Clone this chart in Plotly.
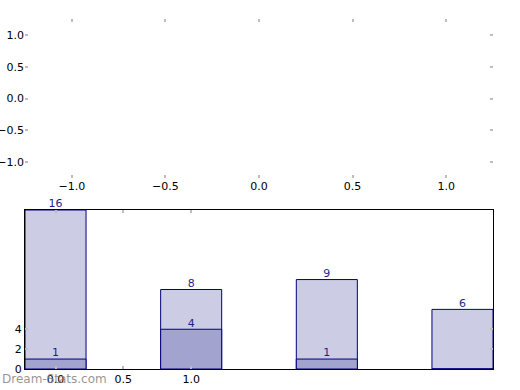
import plotly.graph_objects as go

# ---- data ----
top_xticks = [-1.0, -0.5, 0.0, 0.5, 1.0]
top_yticks = [-1.0, -0.5, 0.0, 0.5, 1.0]
bar_positions = [0, 1, 2, 3]
totals = [16, 8, 9, 6]
subsets = [1, 4, 1, 0]
total_labels = ["16", "8", "9", "6"]
subset_labels = ["1", "4", "1", ""]
bottom_xticks = [0.0, 0.5, 1.0]
bottom_yticks = [0, 2, 4]

LIGHT = "#ccccE4"
DARK = "#a3a3cf"
EDGE = "#000080"
TXT = "#1f1f8a"
TICKC = "#bdbdbd"
FONT = "DejaVu Sans"

W, H = 520, 390
fig = go.Figure()

# top (empty) axes
fig.add_trace(go.Scatter(x=[], y=[], xaxis="x", yaxis="y", showlegend=False))

# bottom bars
fig.add_trace(go.Bar(x=bar_positions, y=totals, width=0.45, marker=dict(color=LIGHT, line=dict(color=EDGE, width=1)),
                     xaxis="x2", yaxis="y2", showlegend=False))
fig.add_trace(go.Bar(x=bar_positions, y=subsets, width=0.45, marker=dict(color=DARK, line=dict(color=EDGE, width=1)),
                     xaxis="x2", yaxis="y2", showlegend=False))
fig.add_trace(go.Scatter(x=bar_positions, y=totals, text=total_labels, mode="text", textposition="top center",
                         textfont=dict(color=TXT, size=11, family=FONT), cliponaxis=False,
                         xaxis="x2", yaxis="y2", showlegend=False))
fig.add_trace(go.Scatter(x=bar_positions, y=subsets, text=subset_labels, mode="text", textposition="top center",
                         textfont=dict(color=TXT, size=11, family=FONT), cliponaxis=False,
                         xaxis="x2", yaxis="y2", showlegend=False))

xd = [25 / W, 493 / W]
common_tick = dict(ticks="inside", ticklen=3, tickwidth=2, tickcolor=TICKC, showgrid=False, zeroline=False,
                   automargin=False, tickfont=dict(family=FONT, size=11, color="black"))

fig.update_layout(
    width=W, height=H,
    margin=dict(l=0, r=0, t=0, b=0, autoexpand=False),
    paper_bgcolor="white", plot_bgcolor="white",
    barmode="overlay",
    font=dict(family=FONT, size=11),
    xaxis=dict(domain=xd, anchor="y", range=[-1.25, 1.25], tickvals=top_xticks,
               ticktext=[f"{v:.1f}".replace("-", "\u2212") for v in top_xticks],
               showline=False, mirror="ticks", **common_tick),
    yaxis=dict(domain=[1 - 178 / H, 1 - 19 / H], anchor="x", range=[-1.25, 1.25], tickvals=top_yticks,
               ticktext=[f"{v:.1f}".replace("-", "\u2212") for v in top_yticks],
               showline=False, mirror="ticks", **common_tick),
    xaxis2=dict(domain=xd, anchor="y2", range=[-0.225, 3.225], tickvals=bottom_xticks,
                ticktext=[f"{v:.1f}" for v in bottom_xticks],
                showline=True, linecolor="black", linewidth=1, mirror="ticks", **common_tick),
    yaxis2=dict(domain=[1 - 369 / H, 1 - 210 / H], anchor="x2", range=[0, 16], tickvals=bottom_yticks,
                ticktext=[str(v) for v in bottom_yticks],
                showline=True, linecolor="black", linewidth=1, mirror="ticks", **common_tick),
    annotations=[dict(text="Dream-Stats.com", xref="paper", yref="paper", x=0, y=0, xanchor="left",
                      yanchor="bottom", showarrow=False, yshift=2,
                      font=dict(family=FONT, size=12, color="rgba(130,130,130,0.85)"))],
)

fig.write_html("out.html", config={"displayModeBar": False, "staticPlot": True},
               post_script="document.body.style.margin='0';document.body.style.overflow='hidden';")
